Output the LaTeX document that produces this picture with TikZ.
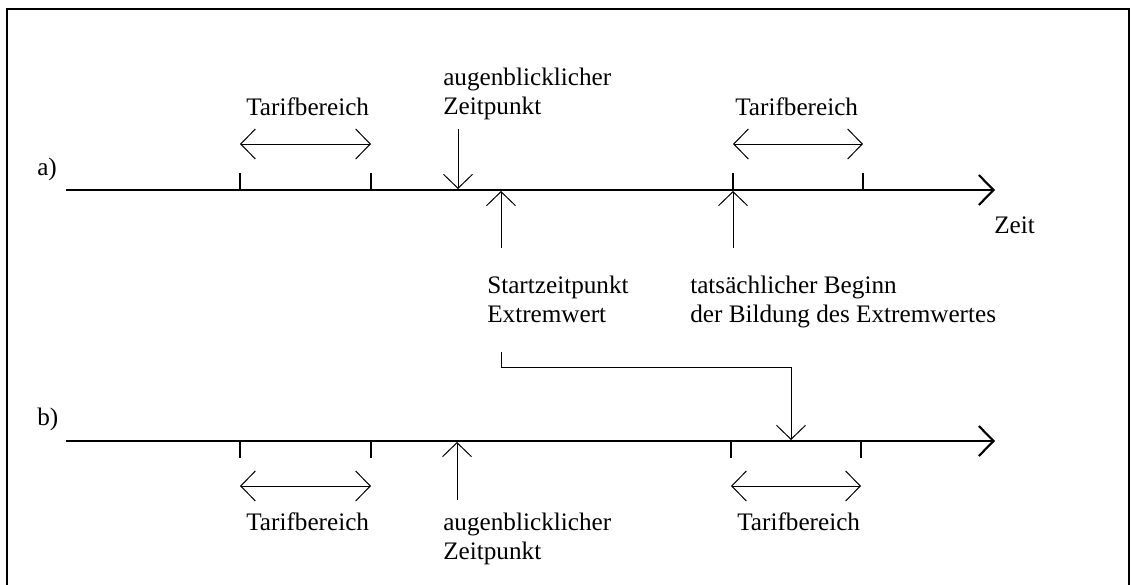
\documentclass[tikz,border=0pt]{standalone}
\usepackage{fontspec}
\setmainfont{Liberation Serif}
\usetikzlibrary{arrows.meta}
\begin{document}
\begin{tikzpicture}[x=0.75pt,y=-0.75pt,
  axis/.style={line width=1.6pt,-{Straight Barb[length=11pt,width=22.5pt]}},
  tickmark/.style={line width=1.6pt},
  pointer/.style={line width=0.75pt,-{Straight Barb[length=10.5pt,width=21.75pt]}},
  spanarrow/.style={line width=0.75pt,{Straight Barb[length=11pt,width=22.5pt]}-{Straight Barb[length=11pt,width=22.5pt]}},
  lbl/.style={inner sep=0pt,anchor=base west,font=\fontsize{18.9}{21.75}\selectfont},
  mlbl/.style={inner sep=0pt,anchor=north west,align=left,font=\fontsize{18.9}{21.75}\selectfont}]
\useasboundingbox (0,0) rectangle (1131,585);
\draw[line width=1.5pt] (7,585) -- (7,9) -- (1129,9) -- (1129,585);

% axis a
\coordinate (a0) at (66,190);
\coordinate (a1) at (995,190);
\draw[axis] (a0) -- (a1);
\coordinate (ta1) at (240,190);
\coordinate (ta2) at (371,190);
\coordinate (ta3) at (733,190);
\coordinate (ta4) at (863,190);
\foreach \t in {ta1,ta2,ta3,ta4} \draw[tickmark] (\t) -- ++(0,-17);
\coordinate (ra1) at (240,144);
\coordinate (ra2) at (371,144);
\coordinate (ra3) at (733,144);
\coordinate (ra4) at (863,144);
\draw[spanarrow] (ra1) -- (ra2);
\draw[spanarrow] (ra3) -- (ra4);

% axis b
\coordinate (b0) at (66,441);
\coordinate (b1) at (995,441);
\draw[axis] (b0) -- (b1);
\coordinate (tb1) at (240,441);
\coordinate (tb2) at (371,441);
\coordinate (tb3) at (731,441);
\coordinate (tb4) at (861,441);
\foreach \t in {tb1,tb2,tb3,tb4} \draw[tickmark] (\t) -- ++(0,17);
\coordinate (rb1) at (240,486);
\coordinate (rb2) at (371,486);
\coordinate (rb3) at (731,486);
\coordinate (rb4) at (861,486);
\draw[spanarrow] (rb1) -- (rb2);
\draw[spanarrow] (rb3) -- (rb4);

% labels
\node[lbl] (la) at (37,175) {a)};
\node[lbl] (lb) at (37,425) {b)};
\node[lbl] (tar1) at (246,115) {Tarifbereich};
\node[lbl] (tar2) at (735,115) {Tarifbereich};
\node[lbl] (tar3) at (246,530) {Tarifbereich};
\node[lbl] (tar4) at (737,530) {Tarifbereich};
\node[lbl] (zeit) at (994,233) {Zeit};
\node[mlbl] (aug1) at (443,85-17.1) {augenblicklicher\\Zeitpunkt};
\node[mlbl] (start) at (487,293-17.1) {Startzeitpunkt\\Extremwert};
\node[mlbl] (beg) at (690,293-17.1) {tatsächlicher Beginn\\der Bildung des Extremwertes};
\node[mlbl] (aug2) at (443,530-17.1) {augenblicklicher\\Zeitpunkt};

% pointers
\coordinate (p1s) at (458,129);
\coordinate (p1e) at (458,189);
\draw[pointer] (p1s) -- (p1e);
\coordinate (p2s) at (501,248);
\coordinate (p2e) at (501,191);
\draw[pointer] (p2s) -- (p2e);
\coordinate (p3s) at (733,248);
\coordinate (p3e) at (733,191);
\draw[pointer] (p3s) -- (p3e);
\coordinate (p4s) at (457,500);
\coordinate (p4e) at (457,442);
\draw[pointer] (p4s) -- (p4e);
\coordinate (c0) at (501,352);
\coordinate (c1) at (791,440);
\draw[pointer] (c0) -- ++(0,15) -| (c1);
\end{tikzpicture}
\end{document}
